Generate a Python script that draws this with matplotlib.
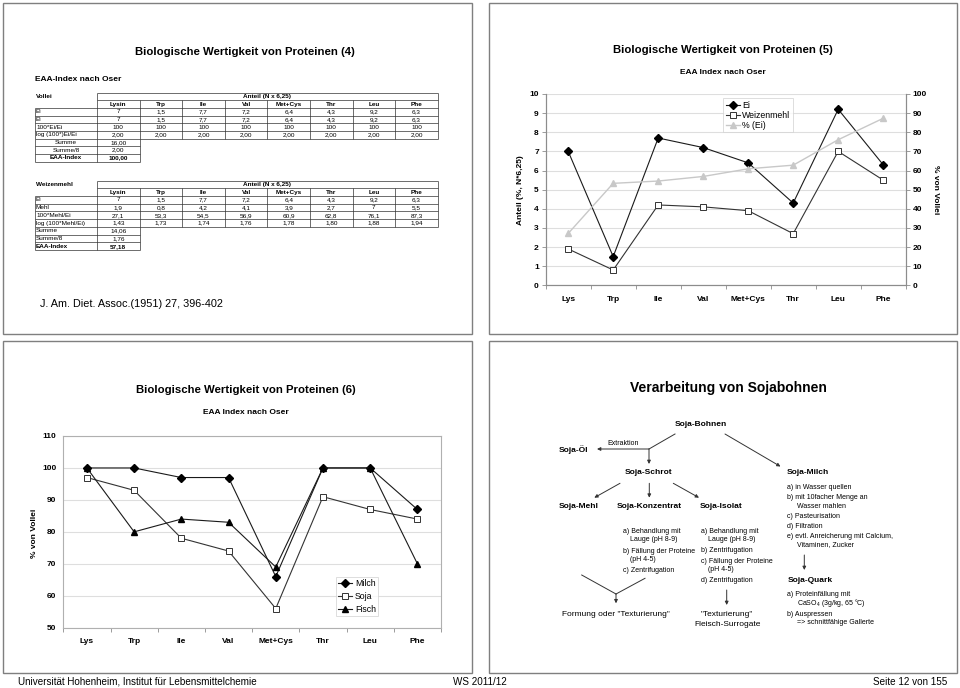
import matplotlib
matplotlib.use('Agg')
import matplotlib.pyplot as plt
from matplotlib.patches import Rectangle
from matplotlib.ticker import FixedLocator

plt.rcParams['font.family'] = ['Liberation Sans', 'DejaVu Sans']
plt.rcParams['mathtext.fontset'] = 'custom'
plt.rcParams['mathtext.rm'] = 'Liberation Sans'

# ---------------- data ----------------
amino_table = ['Lysin', 'Trp', 'Ile', 'Val', 'Met+Cys', 'Thr', 'Leu', 'Phe']
amino_chart = ['Lys', 'Trp', 'Ile', 'Val', 'Met+Cys', 'Thr', 'Leu', 'Phe']

ei_content = [7, 1.5, 7.7, 7.2, 6.4, 4.3, 9.2, 6.3]
ei_pct = [100, 100, 100, 100, 100, 100, 100, 100]
ei_log = [2.00, 2.00, 2.00, 2.00, 2.00, 2.00, 2.00, 2.00]
vollei_summary = ['16,00', '2,00', '100,00']

weizen_content = [1.9, 0.8, 4.2, 4.1, 3.9, 2.7, 7, 5.5]
weizen_pct_ei = [27.1, 53.3, 54.5, 56.9, 60.9, 62.8, 76.1, 87.3]
weizen_log = [1.43, 1.73, 1.74, 1.76, 1.78, 1.80, 1.88, 1.94]
weizen_summary = ['14,06', '1,76', '57,18']

milch = [100, 100, 97, 97, 66, 100, 100, 87]
soja = [97, 93, 78, 74, 56, 91, 87, 84]
fisch = [100, 80, 84, 83, 69, 100, 100, 70]

W, H = 960, 688


def de(v, dec=None):
    if dec is not None:
        s = f'{v:.{dec}f}'
    else:
        s = f'{v:g}'
    return s.replace('.', ',')


def rect(l, t, r, b):
    return [l / W, 1 - b / H, (r - l) / W, (b - t) / H]


fig = plt.figure(figsize=(9.6, 6.88), dpi=100)
ax0 = fig.add_axes([0, 0, 1, 1])
ax0.set_xlim(0, W)
ax0.set_ylim(H, 0)
ax0.axis('off')

# panel borders
for (l, t, r, b) in [(3, 3, 472, 334), (489, 3, 957, 334), (3, 341, 472, 673), (489, 341, 957, 673)]:
    ax0.add_patch(Rectangle((l, t), r - l, b - t, fill=False, ec='#7f7f7f', lw=1.0))

# footer
ax0.text(18, 682, 'Universität Hohenheim, Institut für Lebensmittelchemie', fontsize=7.1, ha='left', va='center')
ax0.text(480, 682, 'WS 2011/12', fontsize=7.1, ha='center', va='center')
ax0.text(947, 682, 'Seite 12 von 155', fontsize=7.1, ha='right', va='center')

# ---------------- panel 1: tables ----------------
ax0.text(245, 52, 'Biologische Wertigkeit von Proteinen (4)', fontsize=8.2, fontweight='bold', ha='center', va='center')
ax0.text(35, 79.5, 'EAA-Index nach Oser', fontsize=6, fontweight='bold', ha='left', va='center')
ax0.text(40, 304, 'J. Am. Diet. Assoc.(1951) 27, 396-402', fontsize=7.8, ha='left', va='center')

col_edges = [35, 97] + [97 + 42.6 * (i + 1) for i in range(8)]
RH = 7.7
LC = '#333333'
TF = 4.6


def hline(x0, x1, y):
    ax0.plot([x0, x1], [y, y], color=LC, lw=0.5, solid_capstyle='butt')


def vline(x, y0, y1):
    ax0.plot([x, x], [y0, y1], color=LC, lw=0.5, solid_capstyle='butt')


def draw_table(top, name, rows, summary, sum_center):
    ax0.text(36, top + RH / 2, name, fontsize=TF, fontweight='bold', ha='left', va='center')
    x0, x1 = col_edges[1], col_edges[-1]
    # header row
    hline(x0, x1, top)
    ax0.text((x0 + x1) / 2, top + RH / 2, 'Anteil (N x 6,25)', fontsize=TF, fontweight='bold', ha='center', va='center')
    y = top + RH
    hline(x0, x1, y)
    for i, lab in enumerate(amino_table):
        ax0.text((col_edges[i + 1] + col_edges[i + 2]) / 2, y + RH / 2, lab, fontsize=TF, fontweight='bold', ha='center', va='center')
    y += RH
    hline(col_edges[0], x1, y)
    for lab, vals in rows:
        ax0.text(36, y + RH / 2, lab, fontsize=TF, ha='left', va='center')
        for i, v in enumerate(vals):
            ax0.text((col_edges[i + 1] + col_edges[i + 2]) / 2, y + RH / 2, v, fontsize=TF, ha='center', va='center')
        y += RH
        hline(col_edges[0], x1, y)
    data_bottom = y
    # vertical lines
    vline(x0, top, data_bottom)
    vline(x1, top, data_bottom)
    for xe in col_edges[2:-1]:
        vline(xe, top + RH, data_bottom)
    vline(col_edges[0], top + 2 * RH, data_bottom)
    # summary rows
    labels = ['Summe', 'Summe/8', 'EAA-Index']
    for j, (lab, v) in enumerate(zip(labels, summary)):
        fw = 'bold' if j == 2 else 'normal'
        if sum_center:
            ax0.text(66, y + RH / 2, lab, fontsize=TF, fontweight=fw, ha='center', va='center')
        else:
            ax0.text(36, y + RH / 2, lab, fontsize=TF, fontweight=fw, ha='left', va='center')
        ax0.text((col_edges[1] + col_edges[2]) / 2, y + RH / 2, v, fontsize=TF, fontweight=fw, ha='center', va='center')
        y += RH
        hline(col_edges[0], col_edges[2], y)
    for xe in col_edges[:3]:
        vline(xe, data_bottom, y)


rows1 = [('Ei', [de(v) for v in ei_content]),
         ('Ei', [de(v) for v in ei_content]),
         ('100*Ei/Ei', [de(v) for v in ei_pct]),
         ('log (100*)Ei/Ei', [de(v, 2) for v in ei_log])]
draw_table(92.5, 'Vollei', rows1, vollei_summary, True)

rows2 = [('Ei', [de(v) for v in ei_content]),
         ('Mehl', [de(v) for v in weizen_content]),
         ('100*Mehl/Ei', [de(v, 1) for v in weizen_pct_ei]),
         ('log (100*Mehl/Ei)', [de(v, 2) for v in weizen_log])]
draw_table(180.7, 'Weizenmehl', rows2, weizen_summary, False)

# ---------------- panel 2: chart 5 ----------------
ax0.text(723, 50, 'Biologische Wertigkeit von Proteinen (5)', fontsize=8.2, fontweight='bold', ha='center', va='center')
ax0.text(723, 72, 'EAA Index nach Oser', fontsize=6, fontweight='bold', ha='center', va='center')

SP = '#8c8c8c'
x = list(range(len(amino_chart)))


def style_cat_axis(ax):
    ax.set_xlim(-0.5, len(amino_chart) - 0.5)
    ax.set_xticks(x)
    ax.set_xticklabels(amino_chart, fontsize=6, fontweight='bold')
    ax.xaxis.set_minor_locator(FixedLocator([i - 0.5 for i in range(len(amino_chart) + 1)]))
    ax.tick_params(axis='x', which='major', length=0, pad=7.5)
    ax.tick_params(axis='x', which='minor', length=3, color=SP, width=0.6)


ax5 = fig.add_axes(rect(545.7, 94, 905.7, 285.3))
ax5.set_facecolor('none')
style_cat_axis(ax5)
ax5.set_ylim(0, 10)
ax5.set_yticks(range(0, 11))
ax5.tick_params(axis='y', length=3, color=SP, width=0.6, labelsize=6, pad=2)
for t in ax5.get_yticklabels():
    t.set_fontweight('bold')
ax5.yaxis.grid(True, color='#dedede', lw=0.8)
ax5.set_axisbelow(True)
for s in ['left', 'bottom', 'right']:
    ax5.spines[s].set_color(SP)
    ax5.spines[s].set_linewidth(0.8)
ax5.spines['top'].set_visible(False)

l1, = ax5.plot(x, ei_content, color='#1a1a1a', lw=0.8, marker='D', ms=4, mfc='black', mec='black', label='Ei', zorder=4)
l2, = ax5.plot(x, weizen_content, color='#333333', lw=0.8, marker='s', ms=4.2, mfc='white', mec='#333333', mew=0.7, label='Weizenmehl', zorder=4)

ax5r = ax5.twinx()
ax5r.set_ylim(0, 100)
ax5r.set_yticks(range(0, 101, 10))
ax5r.tick_params(axis='y', length=3, color=SP, width=0.6, labelsize=6, pad=2)
for t in ax5r.get_yticklabels():
    t.set_fontweight('bold')
for s in ['left', 'bottom', 'right']:
    ax5r.spines[s].set_color(SP)
    ax5r.spines[s].set_linewidth(0.8)
ax5r.spines['top'].set_visible(False)
l3, = ax5r.plot(x, weizen_pct_ei, color='#c8c8c8', lw=1.0, marker='^', ms=4.5, mfc='#c8c8c8', mec='#c8c8c8', label='% (Ei)', zorder=1)

leg5 = fig.legend([l1, l2, l3], ['Ei', 'Weizenmehl', '% (Ei)'], loc='upper left',
                  bbox_to_anchor=(723 / W, 1 - 98 / H), bbox_transform=fig.transFigure,
                  fontsize=6.3, frameon=True, fancybox=False, borderpad=0.3, labelspacing=0.12,
                  handlelength=1.6, handletextpad=0.3, borderaxespad=0)
leg5.get_frame().set_edgecolor('#cfcfcf')
leg5.get_frame().set_linewidth(0.6)

fig.text(520 / W, 1 - 190 / H, 'Anteil (%, N*6,25)', rotation=90, fontsize=6, fontweight='bold', ha='center', va='center')
fig.text(935 / W, 1 - 190 / H, '% von Vollei', rotation=270, fontsize=6, fontweight='bold', ha='center', va='center')

# ---------------- panel 3: chart 6 ----------------
ax0.text(246, 390, 'Biologische Wertigkeit von Proteinen (6)', fontsize=8.2, fontweight='bold', ha='center', va='center')
ax0.text(246, 413, 'EAA Index nach Oser', fontsize=6, fontweight='bold', ha='center', va='center')

ax6 = fig.add_axes(rect(63.3, 436, 441, 627.7))
ax6.set_facecolor('none')
style_cat_axis(ax6)
ax6.set_ylim(50, 110)
ax6.set_yticks(range(50, 111, 10))
ax6.tick_params(axis='y', length=0, labelsize=6, pad=5)
for t in ax6.get_yticklabels():
    t.set_fontweight('bold')
ax6.yaxis.grid(True, color='#dedede', lw=0.8)
ax6.set_axisbelow(True)
for s in ax6.spines.values():
    s.set_color('#b0b0b0')
    s.set_linewidth(0.8)

m1, = ax6.plot(x, milch, color='#1a1a1a', lw=0.8, marker='D', ms=4, mfc='black', mec='black', zorder=4)
m2, = ax6.plot(x, soja, color='#333333', lw=0.8, marker='s', ms=4.2, mfc='white', mec='#333333', mew=0.7, zorder=4)
m3, = ax6.plot(x, fisch, color='#1a1a1a', lw=0.8, marker='^', ms=4.8, mfc='black', mec='black', zorder=4)

leg6 = fig.legend([m1, m2, m3], ['Milch', 'Soja', 'Fisch'], loc='upper left',
                  bbox_to_anchor=(336 / W, 1 - 577 / H), bbox_transform=fig.transFigure,
                  fontsize=6.3, frameon=True, fancybox=False, borderpad=0.25, labelspacing=0.45,
                  handlelength=1.6, handletextpad=0.3, borderaxespad=0)
leg6.get_frame().set_edgecolor('#cfcfcf')
leg6.get_frame().set_linewidth(0.6)

fig.text(35 / W, 1 - 533 / H, '% von Vollei', rotation=90, fontsize=6, fontweight='bold', ha='center', va='center')

# ---------------- panel 4: diagram ----------------
ax0.text(728, 388, 'Verarbeitung von Sojabohnen', fontsize=10, fontweight='bold', ha='center', va='center')

AC = '#333333'


def line(x0, y0, x1, y1):
    ax0.plot([x0, x1], [y0, y1], color=AC, lw=0.7)


def arrow(x0, y0, x1, y1):
    ax0.annotate('', xy=(x1, y1), xytext=(x0, y0),
                 arrowprops=dict(arrowstyle='-|>', color=AC, lw=0.7, mutation_scale=5, shrinkA=0, shrinkB=0))


BF = 6
SF = 5
ax0.text(701, 425, 'Soja-Bohnen', fontsize=BF, fontweight='bold', ha='center', va='center')
ax0.text(573, 450, 'Soja-Öl', fontsize=BF, fontweight='bold', ha='center', va='center')
ax0.text(623, 443.5, 'Extraktion', fontsize=SF, ha='center', va='center')
line(675, 434, 649, 449)
arrow(649, 449, 597, 449)
arrow(649, 449, 649, 464)
ax0.text(649, 473, 'Soja-Schrot', fontsize=BF, fontweight='bold', ha='center', va='center')
arrow(725, 434, 780.5, 466.5)
ax0.text(787, 473, 'Soja-Milch', fontsize=BF, fontweight='bold', ha='left', va='center')

arrow(620, 483.3, 594.3, 497.7)
arrow(649.3, 483.3, 649.3, 497.7)
arrow(673.3, 483.3, 699, 497.7)
ax0.text(578.3, 506.7, 'Soja-Mehl', fontsize=BF, fontweight='bold', ha='center', va='center')
ax0.text(649.3, 506.7, 'Soja-Konzentrat', fontsize=BF, fontweight='bold', ha='center', va='center')
ax0.text(721, 506.7, 'Soja-Isolat', fontsize=BF, fontweight='bold', ha='center', va='center')

konz_steps = [(622.7, 531.7, 'a) Behandlung mit'), (630, 539.3, 'Lauge (pH 8-9)'),
              (622.7, 551.7, 'b) Fällung der Proteine'), (630, 559.3, '(pH 4-5)'),
              (622.7, 571, 'c) Zentrifugation')]
iso_steps = [(700.7, 531.7, 'a) Behandlung mit'), (708, 539.3, 'Lauge (pH 8-9)'),
             (700.7, 551, 'b) Zentrifugation'), (700.7, 561.7, 'c) Fällung der Proteine'),
             (708, 569.3, '(pH 4-5)'), (700.7, 580, 'd) Zentrifugation')]
milch_steps = [(787.3, 487.7, 'a) in Wasser quellen'), (787.3, 497.3, 'b) mit 10facher Menge an'),
               (796.7, 506, 'Wasser mahlen'), (787.3, 516.7, 'c) Pasteurisation'),
               (787.3, 526.3, 'd) Filtration'), (787.3, 536, 'e) evtl. Anreicherung mit Calcium,'),
               (796.7, 544.3, 'Vitaminen, Zucker')]
quark_steps = [(787.3, 595, 'a) Proteinfällung mit'), (796.7, 602.7, 'CaSO$_4$ (3g/kg, 65 °C)'),
               (787.3, 614, 'b) Auspressen'), (796.7, 622.3, '=> schnittfähige Gallerte')]
for xx, yy, s in konz_steps + iso_steps + milch_steps + quark_steps:
    ax0.text(xx, yy, s, fontsize=SF, ha='left', va='center')

arrow(804.3, 555, 804.3, 570)
ax0.text(787.3, 580.7, 'Soja-Quark', fontsize=BF, fontweight='bold', ha='left', va='center')

line(581.7, 575, 616, 594)
line(645, 578.3, 616, 594)
arrow(616, 594, 616, 603.3)
ax0.text(616, 615, 'Formung oder "Texturierung"', fontsize=6, ha='center', va='center')
arrow(726.7, 590, 726.7, 605)
ax0.text(726.7, 615, '"Texturierung"', fontsize=6, ha='center', va='center')
ax0.text(728, 624.3, 'Fleisch-Surrogate', fontsize=6, ha='center', va='center')

fig.savefig('out.png', dpi=100)
